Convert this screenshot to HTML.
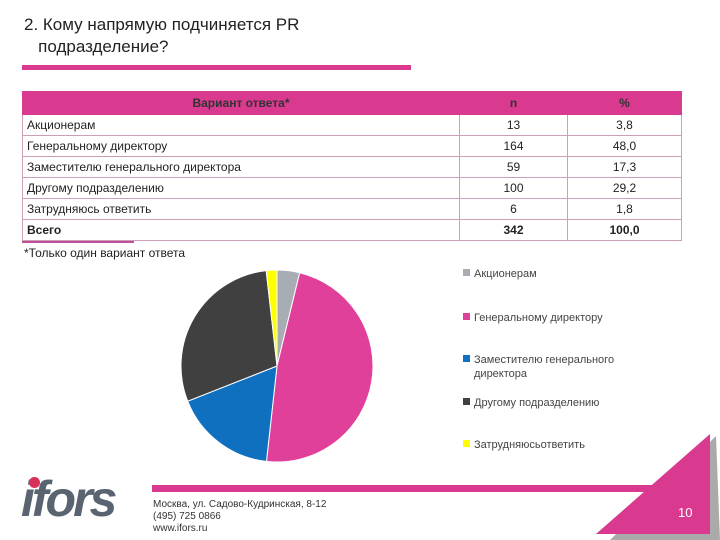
<!DOCTYPE html>
<html><head><meta charset="utf-8"><style>
body{margin:0;background:#fff;font-family:"Liberation Sans","DejaVu Sans",sans-serif}
#root{position:relative;width:720px;height:540px;overflow:hidden;background:#fff}
.t{position:absolute;white-space:nowrap}
table{position:absolute;left:22px;top:91px;width:659px;border-collapse:collapse;font-size:12px;color:#222;table-layout:fixed}
td{border:1px solid #c9a0b8;height:20px;padding:0 4px}
th{background:#d9398f;height:20px;font-size:12px;font-weight:bold;color:#333;border:1px solid #d9398f}
.c{text-align:center}
</style></head><body>
<div id="root">
<div class="t" style="left:24px;top:14px;font-size:17px;color:#222;line-height:22px">2. Кому напрямую подчиняется PR<br>&nbsp;&nbsp;&nbsp;подразделение?</div>
<div style="position:absolute;left:22px;top:65px;width:389px;height:5px;background:#d9398f"></div>
<table>
<colgroup><col style="width:437px"><col style="width:108px"><col style="width:114px"></colgroup>
<tr><th>Вариант ответа*</th><th>n</th><th>%</th></tr>
<tr><td>Акционерам</td><td class="c">13</td><td class="c">3,8</td></tr>
<tr><td>Генеральному директору</td><td class="c">164</td><td class="c">48,0</td></tr>
<tr><td>Заместителю генерального директора</td><td class="c">59</td><td class="c">17,3</td></tr>
<tr><td>Другому подразделению</td><td class="c">100</td><td class="c">29,2</td></tr>
<tr><td>Затрудняюсь ответить</td><td class="c">6</td><td class="c">1,8</td></tr>
<tr><td><b>Всего</b></td><td class="c"><b>342</b></td><td class="c"><b>100,0</b></td></tr>
</table>
<div style="position:absolute;left:22px;top:241px;width:112px;height:2px;background:#c0509a"></div>
<div class="t" style="left:24px;top:246px;font-size:12px;color:#222">*Только один вариант ответа</div>
<svg id="chart" width="720" height="540" style="position:absolute;left:0;top:0"></svg>
<div style="position:absolute;left:152px;top:485px;width:510px;height:7px;background:#d9398f"></div>
<svg width="720" height="540" style="position:absolute;left:0;top:0"><polygon points="716,436 610,540 720,540" fill="#aaa"/><polygon points="710,434 596,534 710,534" fill="#d9398f"/></svg>
<div class="t" style="left:678px;top:505px;font-size:13px;color:#fff">10</div>
<div class="t" style="left:21px;top:470px;font-size:50px;font-weight:bold;font-style:italic;color:#5a6470;letter-spacing:-3px">ifors</div>
<div style="position:absolute;left:29px;top:477px;width:11px;height:11px;border-radius:50%;background:#d9305a"></div>
<div class="t" style="left:153px;top:499px;font-size:10px;color:#333;line-height:12px">Москва, ул. Садово-Кудринская, 8-12<br>(495) 725 0866<br>www.ifors.ru</div>
</div>
<script>
const categories=["Акционерам","Генеральному директору","Заместителю генерального директора","Другому подразделению","Затрудняюсь ответить"];
const legendLabels=[["Акционерам"],["Генеральному директору"],["Заместителю генерального","директора"],["Другому подразделению"],["Затрудняюсьответить"]];
const values=[3.8,48.0,17.3,29.2,1.8];
const colors=["#a8adb3","#e0409a","#1070c0","#404040","#ffff00"];
const ns="http://www.w3.org/2000/svg",svg=document.getElementById('chart');
const cx=277,cy=366,r=96;
const total=values.reduce((a,b)=>a+b,0);
let a0=0;
values.forEach((v,i)=>{
 const a1=a0+v/total*2*Math.PI;
 const p=a=>[cx+r*Math.sin(a),cy-r*Math.cos(a)];
 const [x0,y0]=p(a0),[x1,y1]=p(a1);
 const path=document.createElementNS(ns,'path');
 path.setAttribute('d',`M${cx},${cy}L${x0},${y0}A${r},${r} 0 ${a1-a0>Math.PI?1:0} 1 ${x1},${y1}Z`);
 path.setAttribute('fill',colors[i]);path.setAttribute('stroke','#fff');path.setAttribute('stroke-width','1');
 
 
 svg.appendChild(path);a0=a1;
});
const ly=[273,317,359,402,444];
legendLabels.forEach((lab,i)=>{
 const g=document.createElementNS(ns,'g');
 
 
 const s=document.createElementNS(ns,'rect');
 s.setAttribute('x',463);s.setAttribute('y',ly[i]-4);s.setAttribute('width',7);s.setAttribute('height',7);s.setAttribute('fill',colors[i]);
 g.appendChild(s);
 lab.forEach((t,j)=>{
  const tx=document.createElementNS(ns,'text');
  tx.setAttribute('x',474);tx.setAttribute('y',ly[i]+4+j*14);tx.setAttribute('font-size','11');tx.setAttribute('fill','#444');
  tx.setAttribute('font-family','Liberation Sans, sans-serif');
  tx.textContent=t;g.appendChild(tx);
 });
 svg.appendChild(g);
});
</script>
</body></html>
